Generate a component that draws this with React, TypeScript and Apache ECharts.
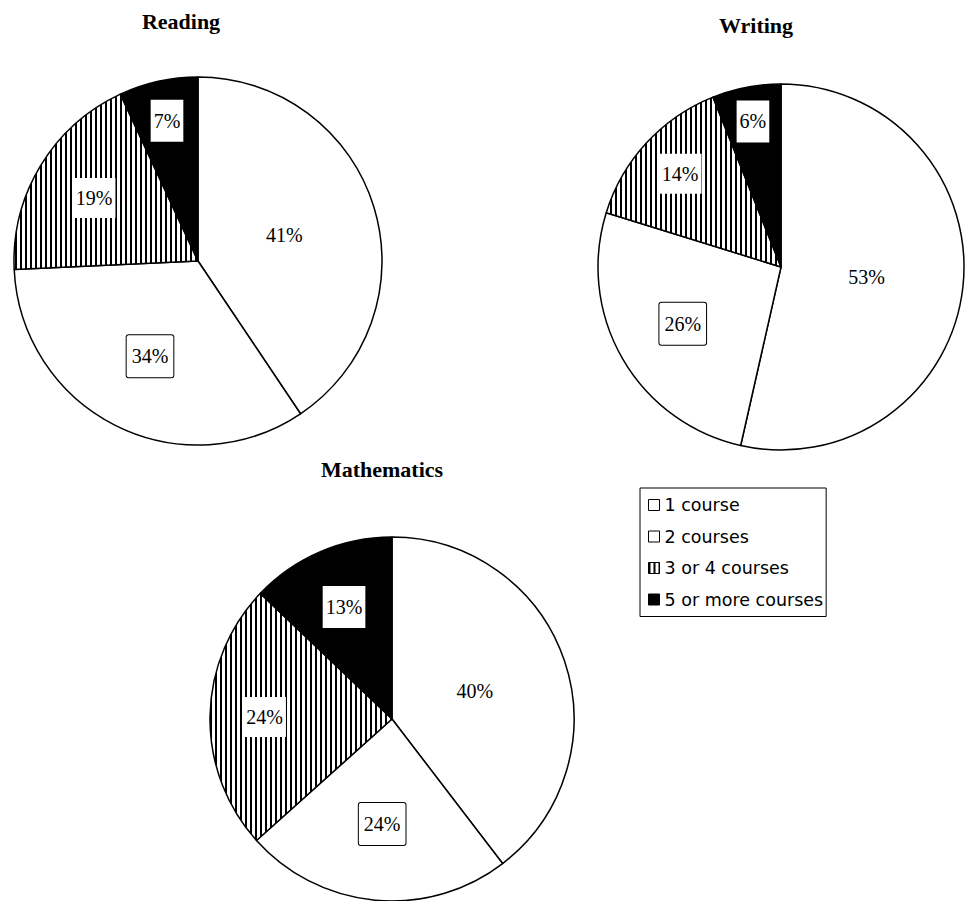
import React, { useEffect, useRef } from 'react';
import * as echarts from 'echarts';

const categories = ['1 course', '2 courses', '3 or 4 courses', '5 or more courses'];
const subjects = ['Reading', 'Writing', 'Mathematics'];
const readingValues = [41, 34, 19, 7];
const writingValues = [53, 26, 14, 6];
const mathValues = [40, 24, 24, 13];

// layout only (pixels / fractions)
const pieCenters = [[198, 261], [781, 267], [392, 719]];
const pieRadii = [184, 183, 182];
const titlePos = [[181, 10], [756, 14], [382, 458]];
const labelRadiusFrac = [
  [0.49, 0.58, 0.66, 0.78],
  [0.47, 0.62, 0.75, 0.81],
  [0.48, 0.58, 0.70, 0.67],
];

export default function App() {
  const ref = useRef<HTMLDivElement>(null);
  useEffect(() => {
    const chart = echarts.init(ref.current!, null, { renderer: 'svg' });
    const cvs = document.createElement('canvas');
    cvs.width = 5;
    cvs.height = 5;
    const ctx = cvs.getContext('2d')!;
    ctx.fillStyle = '#fff';
    ctx.fillRect(0, 0, 5, 5);
    ctx.fillStyle = '#000';
    ctx.fillRect(0, 0, 2, 5);
    const stripe: any = { image: cvs, repeat: 'repeat', imageWidth: 5, imageHeight: 5 };
    const fills: any[] = ['#fff', '#fff', stripe, '#000'];
    const labelStyles: any[] = [
      {},
      { backgroundColor: '#fff', borderColor: '#000', borderWidth: 1, borderRadius: 2, padding: [11, 5] },
      { backgroundColor: '#fff', padding: [10, 3] },
      { backgroundColor: '#fff', padding: [11, 3] },
    ];
    const allValues = [readingValues, writingValues, mathValues];

    const series = allValues.map((values, s) => {
      const total = values.reduce((a, b) => a + b, 0);
      const mids: number[] = [];
      let acc = 0;
      values.forEach((v) => {
        mids.push(((acc + v / 2) / total) * 2 * Math.PI);
        acc += v;
      });
      const c = pieCenters[s];
      const r = pieRadii[s];
      return {
        type: 'pie',
        name: subjects[s],
        center: c,
        radius: r,
        startAngle: 90,
        clockwise: true,
        silent: true,
        avoidLabelOverlap: false,
        itemStyle: { borderColor: '#000', borderWidth: 1.5 },
        label: {
          show: true,
          position: 'inside',
          formatter: '{c}%',
          color: '#000',
          fontFamily: 'Liberation Serif',
          fontSize: 20,
        },
        labelLine: { show: false },
        emphasis: { disabled: true },
        labelLayout: (p: any) => {
          const i = p.dataIndex;
          const a = mids[i];
          const rr = r * labelRadiusFrac[s][i];
          return {
            x: c[0] + rr * Math.sin(a),
            y: c[1] - rr * Math.cos(a),
            align: 'center',
            verticalAlign: 'middle',
          };
        },
        data: categories.map((name, i) => ({
          name,
          value: values[i],
          itemStyle: { color: fills[i] },
          label: labelStyles[i],
        })),
      };
    });

    chart.setOption({
      animation: false,
      backgroundColor: '#fff',
      title: subjects.map((t, i) => ({
        text: t,
        left: titlePos[i][0],
        top: titlePos[i][1],
        textAlign: 'center',
        padding: 0,
        textStyle: { fontFamily: 'Liberation Serif', fontWeight: 'bold', fontSize: 22, color: '#000' },
      })),
      legend: {
        orient: 'vertical',
        left: 640,
        top: 488,
        data: categories,
        icon: 'rect',
        itemWidth: 11,
        itemHeight: 11,
        itemGap: 13.5,
        padding: [8, 3, 8, 8],
        borderColor: '#000',
        borderWidth: 1,
        selectedMode: false,
        itemStyle: { borderColor: '#000', borderWidth: 1 },
        textStyle: { fontFamily: 'DejaVu Sans', fontSize: 17.5, color: '#000' },
      },
      series,
    });
    return () => chart.dispose();
  }, []);
  return <div ref={ref} style={{ position: 'fixed', left: 0, top: 0, width: 967, height: 901 }} />;
}
